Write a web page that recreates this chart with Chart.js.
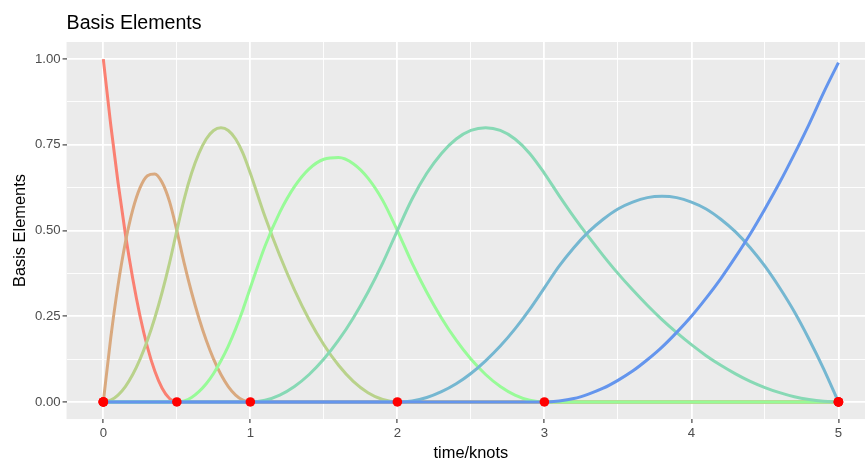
<!DOCTYPE html>
<html>
<head>
<meta charset="utf-8">
<script src="https://cdn.jsdelivr.net/npm/chart.js@4"></script>
<style>
  html, body { margin: 0; padding: 0; background: #fff; overflow: hidden; }
  #wrap { width: 880px; height: 460px; }
</style>
</head>
<body>
<div id="wrap"><canvas id="basisChart" width="880" height="460"></canvas></div>
<script>
// sample positions (finer on [0,1] where the curves are steep)
const xs = [
  0, 0.05, 0.1, 0.15, 0.2, 0.25, 0.3, 0.35, 0.4, 0.45, 0.5,
  0.55, 0.6, 0.65, 0.7, 0.75, 0.8, 0.85, 0.9, 0.95, 1.0,
  1.1, 1.2, 1.3, 1.4, 1.5, 1.6, 1.7, 1.8, 1.9, 2.0,
  2.1, 2.2, 2.3, 2.4, 2.5, 2.6, 2.7, 2.8, 2.9, 3.0,
  3.1, 3.2, 3.3, 3.4, 3.5, 3.6, 3.7, 3.8, 3.9, 4.0,
  4.1, 4.2, 4.3, 4.4, 4.5, 4.6, 4.7, 4.8, 4.9, 5.0
];

const basis1 = [
  1, 0.81, 0.64, 0.49, 0.36, 0.25, 0.16, 0.09, 0.04, 0.01, 0,
  0, 0, 0, 0, 0, 0, 0, 0, 0, 0,
  0, 0, 0, 0, 0, 0, 0, 0, 0, 0,
  0, 0, 0, 0, 0, 0, 0, 0, 0, 0,
  0, 0, 0, 0, 0, 0, 0, 0, 0, 0,
  0, 0, 0, 0, 0, 0, 0, 0, 0, 0
];
const basis2 = [
  0, 0.185, 0.34, 0.465, 0.56, 0.625, 0.66, 0.665, 0.64, 0.585, 0.5,
  0.405, 0.32, 0.245, 0.18, 0.125, 0.08, 0.045, 0.02, 0.005, 0,
  0, 0, 0, 0, 0, 0, 0, 0, 0, 0,
  0, 0, 0, 0, 0, 0, 0, 0, 0, 0,
  0, 0, 0, 0, 0, 0, 0, 0, 0, 0,
  0, 0, 0, 0, 0, 0, 0, 0, 0, 0
];
const basis3 = [
  0, 0.005, 0.02, 0.045, 0.08, 0.125, 0.18, 0.245, 0.32, 0.405, 0.5,
  0.592, 0.667, 0.725, 0.767, 0.792, 0.8, 0.792, 0.767, 0.725, 0.667,
  0.54, 0.427, 0.327, 0.24, 0.167, 0.107, 0.06, 0.027, 0.007, 0,
  0, 0, 0, 0, 0, 0, 0, 0, 0, 0,
  0, 0, 0, 0, 0, 0, 0, 0, 0, 0,
  0, 0, 0, 0, 0, 0, 0, 0, 0, 0
];
const basis4 = [
  0, 0, 0, 0, 0, 0, 0, 0, 0, 0, 0,
  0.003, 0.013, 0.03, 0.053, 0.083, 0.12, 0.163, 0.213, 0.27, 0.333,
  0.455, 0.553, 0.628, 0.68, 0.708, 0.713, 0.695, 0.653, 0.588, 0.5,
  0.405, 0.32, 0.245, 0.18, 0.125, 0.08, 0.045, 0.02, 0.005, 0,
  0, 0, 0, 0, 0, 0, 0, 0, 0, 0,
  0, 0, 0, 0, 0, 0, 0, 0, 0, 0
];
const basis5 = [
  0, 0, 0, 0, 0, 0, 0, 0, 0, 0, 0,
  0, 0, 0, 0, 0, 0, 0, 0, 0, 0,
  0.005, 0.02, 0.045, 0.08, 0.125, 0.18, 0.245, 0.32, 0.405, 0.5,
  0.592, 0.667, 0.725, 0.767, 0.792, 0.8, 0.792, 0.767, 0.725, 0.667,
  0.602, 0.54, 0.482, 0.427, 0.375, 0.327, 0.282, 0.24, 0.202, 0.167,
  0.135, 0.107, 0.082, 0.06, 0.042, 0.027, 0.015, 0.007, 0.002, 0
];
const basis6 = [
  0, 0, 0, 0, 0, 0, 0, 0, 0, 0, 0,
  0, 0, 0, 0, 0, 0, 0, 0, 0, 0,
  0, 0, 0, 0, 0, 0, 0, 0, 0, 0,
  0.003, 0.013, 0.03, 0.053, 0.083, 0.12, 0.163, 0.213, 0.27, 0.333,
  0.396, 0.45, 0.496, 0.533, 0.563, 0.583, 0.596, 0.6, 0.596, 0.583,
  0.563, 0.533, 0.496, 0.45, 0.396, 0.333, 0.263, 0.183, 0.096, 0
];
const basis7 = [
  0, 0, 0, 0, 0, 0, 0, 0, 0, 0, 0,
  0, 0, 0, 0, 0, 0, 0, 0, 0, 0,
  0, 0, 0, 0, 0, 0, 0, 0, 0, 0,
  0, 0, 0, 0, 0, 0, 0, 0, 0, 0,
  0.003, 0.01, 0.023, 0.04, 0.063, 0.09, 0.123, 0.16, 0.203, 0.25,
  0.303, 0.36, 0.423, 0.49, 0.563, 0.64, 0.723, 0.81, 0.903, 0.99
];

const knots = [0, 0, 0, 0.5, 1, 2, 3, 5, 5, 5];

const series = [basis1, basis2, basis3, basis4, basis5, basis6, basis7];
const colors = ['#FA8072', '#D9A97F', '#B9D28B', '#98FB98', '#87D9B5', '#75B7D1', '#6495ED'];

const xMajor = [0, 1, 2, 3, 4, 5];
const xMinor = [0.5, 1.5, 2.5, 3.5, 4.5];
const yMajor = [0, 0.25, 0.5, 0.75, 1];
const yMinor = [0.125, 0.375, 0.625, 0.875];

const FONT = '"Liberation Sans", Arial, sans-serif';

const panelBg = {
  id: 'panelBg',
  beforeDraw(chart) {
    const { ctx, chartArea: a } = chart;
    ctx.save();
    ctx.fillStyle = '#EBEBEB';
    ctx.fillRect(a.left, a.top, a.right - a.left, a.bottom - a.top);
    ctx.restore();
  }
};

// ggplot-style title, left aligned with the panel
const plotTitle = {
  id: 'plotTitle',
  afterDraw(chart) {
    const { ctx, chartArea: a } = chart;
    ctx.save();
    ctx.fillStyle = '#000';
    ctx.font = '19.6px ' + FONT;
    ctx.textBaseline = 'alphabetic';
    ctx.fillText('Basis Elements', a.left, 29);
    ctx.restore();
  }
};

const datasets = series.map((ys, i) => ({
  data: xs.map((x, j) => ({ x: x, y: ys[j] })),
  borderColor: colors[i],
  borderWidth: 3,
  borderCapStyle: 'butt',
  pointRadius: 0,
  cubicInterpolationMode: 'monotone',
  order: series.length - i
}));

datasets.push({
  data: knots.map(k => ({ x: k, y: 0 })),
  showLine: false,
  pointRadius: 4.8,
  pointBackgroundColor: '#FF0000',
  pointBorderWidth: 0,
  order: 0
});

function gridScale(major, minor, min, max, fmt, title, pad, tpad) {
  return {
    type: 'linear',
    min: min,
    max: max,
    afterBuildTicks: axis => {
      axis.ticks = [...major, ...minor].sort((a, b) => a - b).map(v => ({ value: v }));
    },
    ticks: {
      autoSkip: false,
      color: '#4D4D4D',
      font: { family: FONT, size: 13.2, lineHeight: 1.1 },
      padding: pad,
      callback: v => major.includes(v) ? fmt(v) : ''
    },
    grid: {
      color: '#FFFFFF',
      lineWidth: c => major.includes(c.tick.value) ? 1.8 : 0.9,
      tickColor: c => major.includes(c.tick.value) ? '#333333' : 'rgba(0,0,0,0)',
      tickLength: 4,
      tickWidth: 1.1
    },
    border: { display: false },
    title: {
      display: true,
      text: title,
      color: '#000',
      font: { family: FONT, size: 16.4, lineHeight: 1.0 },
      padding: tpad
    }
  };
}

new Chart(document.getElementById('basisChart'), {
  type: 'line',
  data: { datasets },
  options: {
    responsive: false,
    animation: false,
    layout: { padding: { top: 42, right: 0, bottom: -2, left: 12.5 } },
    plugins: { legend: { display: false }, tooltip: { enabled: false } },
    scales: {
      x: gridScale(xMajor, xMinor, -0.25, 5.25, v => String(v), 'time/knots', 3, { top: 2, bottom: 0 }),
      y: gridScale(yMajor, yMinor, -0.05, 1.05, v => v.toFixed(2), 'Basis Elements', 2, { top: 0, bottom: 4 })
    }
  },
  plugins: [panelBg, plotTitle]
});
</script>
</body>
</html>
